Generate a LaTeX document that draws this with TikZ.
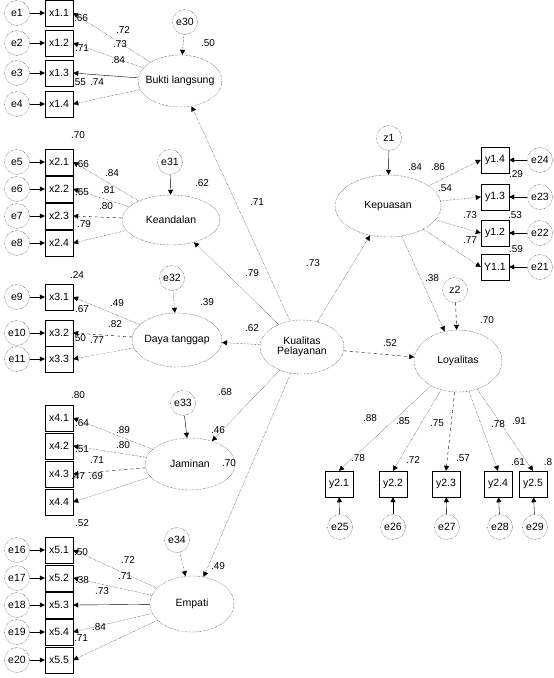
\documentclass[tikz,border=0pt]{standalone}
\usepackage{fontspec}
\setmainfont{Liberation Sans}
\usetikzlibrary{shapes.geometric,arrows.meta}
\newcommand\zw[1]{\makebox[0pt][c]{#1}}
\begin{document}
\begin{tikzpicture}[x=1pt,y=-1pt,
  font=\fontsize{10.5}{12}\selectfont,
  lat/.style={ellipse,draw,densely dotted,inner sep=0pt},
  err/.style={circle,draw,densely dotted,minimum size=25pt,inner sep=0pt},
  obs/.style={rectangle,draw,minimum width=28pt,minimum height=26pt,inner sep=0pt},
  num/.style={inner sep=0pt,font=\fontsize{10}{11}\selectfont},
  tip/.style={-{Triangle[length=5pt,width=5pt]}},
  arr/.style={tip,densely dotted},
  darr/.style={tip,dashed},
  sarr/.style={tip},
]
\useasboundingbox (0,0) rectangle (554,678);

% ---------- latent variables ----------
\node[lat,minimum width=84pt,minimum height=52pt] (bl) at (180,81) {\zw{Bukti langsung}};
\node[lat,minimum width=98pt,minimum height=50pt] (ke) at (171,220) {\zw{Keandalan}};
\node[lat,minimum width=90pt,minimum height=54pt] (dt) at (177,340) {\zw{Daya tanggap}};
\node[lat,minimum width=90pt,minimum height=52pt] (ja) at (190,464) {\zw{Jaminan}};
\node[lat,minimum width=84pt,minimum height=56pt] (em) at (192,604) {\zw{Empati}};
\node[lat,minimum width=84pt,minimum height=54pt] (kp) at (302,347)
  {\zw{\begin{tabular}{@{}c@{}}Kualitas\\[-2pt]Pelayanan\end{tabular}}};
\node[lat,minimum width=106pt,minimum height=62pt] (kep) at (388,206) {\zw{Kepuasan}};
\node[lat,minimum width=88pt,minimum height=62pt] (loy) at (458,361) {\zw{Loyalitas}};

% ---------- disturbances ----------
\node[err] (e30) at (185,22) {e30};
\node[err] (e31) at (170,162) {e31};
\node[err] (e32) at (172,278) {e32};
\node[err] (e33) at (183,403) {e33};
\node[err] (e34) at (177,540) {e34};
\node[err] (z1) at (389,138) {z1};
\node[err] (z2) at (455,290) {z2};

% ---------- Bukti langsung block ----------
\node[err] (e1) at (17,13) {e1};
\node[err] (e2) at (17,43) {e2};
\node[err] (e3) at (17,73) {e3};
\node[err] (e4) at (17,104) {e4};
\node[obs] (x11) at (59,13) {x1.1};
\node[obs] (x12) at (59,43) {x1.2};
\node[obs] (x13) at (59,73) {x1.3};
\node[obs] (x14) at (59,104) {x1.4};

% ---------- Keandalan block ----------
\node[err] (e5) at (17,162) {e5};
\node[err] (e6) at (17,189) {e6};
\node[err] (e7) at (17,216) {e7};
\node[err] (e8) at (17,243) {e8};
\node[obs] (x21) at (59,162) {x2.1};
\node[obs] (x22) at (59,189) {x2.2};
\node[obs] (x23) at (59,216) {x2.3};
\node[obs] (x24) at (59,243) {x2.4};

% ---------- Daya tanggap block ----------
\node[err] (e9) at (17,297) {e9};
\node[err] (e10) at (17,333) {e10};
\node[err] (e11) at (17,359) {e11};
\node[obs] (x31) at (59,297) {x3.1};
\node[obs] (x32) at (59,333) {x3.2};
\node[obs] (x33) at (59,359) {x3.3};

% ---------- Jaminan block ----------
\node[obs] (x41) at (59,418) {x4.1};
\node[obs] (x42) at (59,446) {x4.2};
\node[obs] (x43) at (59,474) {x4.3};
\node[obs] (x44) at (59,502) {x4.4};

% ---------- Empati block ----------
\node[err] (e16) at (17,550) {e16};
\node[err] (e17) at (17,578) {e17};
\node[err] (e18) at (17,605) {e18};
\node[err] (e19) at (17,632) {e19};
\node[err] (e20) at (17,660) {e20};
\node[obs] (x51) at (59,550) {x5.1};
\node[obs] (x52) at (59,578) {x5.2};
\node[obs] (x53) at (59,605) {x5.3};
\node[obs] (x54) at (59,632) {x5.4};
\node[obs] (x55) at (59,660) {x5.5};

% ---------- Kepuasan indicators ----------
\node[obs] (y14) at (495,160) {y1.4};
\node[obs] (y13) at (495,197) {y1.3};
\node[obs] (y12) at (495,233) {y1.2};
\node[obs] (y11) at (495,267) {Y1.1};
\node[err] (e24) at (540,160) {e24};
\node[err] (e23) at (540,197) {e23};
\node[err] (e22) at (540,233) {e22};
\node[err] (e21) at (540,267) {e21};

% ---------- Loyalitas indicators ----------
\node[obs] (y21) at (339,484) {y2.1};
\node[obs] (y22) at (393,484) {y2.2};
\node[obs] (y23) at (446,484) {y2.3};
\node[obs] (y24) at (498,484) {y2.4};
\node[obs] (y25) at (533,484) {y2.5};
\node[err] (e25) at (340,527) {e25};
\node[err] (e26) at (393,527) {e26};
\node[err] (e27) at (447,527) {e27};
\node[err] (e28) at (500,527) {e28};
\node[err] (e29) at (535,527) {e29};

% ---------- structural paths ----------
\draw[arr] (kp) -- (bl);
\draw[arr] (kp) -- (ke);
\draw[arr] (kp) -- (dt);
\draw[arr] (kp) -- (ja);
\draw[arr] (kp) -- (em);
\draw[arr] (kp) -- (kep);
\draw[darr] (kp) -- (loy);
\draw[arr] (kep) -- (loy);

% disturbance arrows
\draw[arr] (e30) -- (bl);
\draw[sarr] (e31) -- (ke);
\draw[arr] (e32) -- (dt);
\draw[sarr] (e33) -- (ja);
\draw[arr] (e34) -- (em);
\draw[sarr] (z1) -- (kep);
\draw[darr] (z2) -- (loy);

% ---------- loadings ----------
\draw[arr] (bl) -- (x11.east);
\draw[arr] (bl) -- (x12.east);
\draw[sarr] (bl) -- (x13.east);
\draw[arr] (bl) -- (x14.east);

\draw[arr] (ke) -- (x21.east);
\draw[arr] (ke) -- (x22.east);
\draw[darr] (ke) -- (x23.east);
\draw[arr] (ke) -- (x24.east);

\draw[arr] (dt) -- (x31.east);
\draw[darr] (dt) -- (x32.east);
\draw[arr] (dt) -- (x33.east);

\draw[arr] (ja) -- (x41.east);
\draw[arr] (ja) -- (x42.east);
\draw[darr] (ja) -- (x43.east);
\draw[arr] (ja) -- (x44.east);

\draw[arr] (em) -- (x51.east);
\draw[arr] (em) -- (x52.east);
\draw[sarr] (em) -- (x53.east);
\draw[arr] (em) -- (x54.east);
\draw[arr] (em) -- (x55.east);

\draw[arr] (kep) -- (y14.west);
\draw[arr] (kep) -- (y13.west);
\draw[arr] (kep) -- (y12.west);
\draw[arr] (kep) -- (y11.west);

\draw[arr] (loy) -- (y21.north);
\draw[arr] (loy) -- (y22.north);
\draw[darr] (loy) -- (y23.north);
\draw[arr] (loy) -- (y24.north);
\draw[arr] (loy) -- (y25.north);

% ---------- measurement errors ----------
\foreach \e/\x in {e1/x11,e2/x12,e3/x13,e4/x14,e5/x21,e6/x22,e7/x23,e8/x24,
                   e9/x31,e10/x32,e11/x33,e16/x51,e17/x52,e18/x53,e19/x54,e20/x55}
  \draw[sarr] (\e) -- (\x);
\foreach \e/\x in {e24/y14,e23/y13,e22/y12,e21/y11,e25/y21,e26/y22,e27/y23,e28/y24,e29/y25}
  \draw[sarr] (\e) -- (\x);

% ---------- estimates ----------
% Bukti langsung
\node[num] (n1) at (81,18) {.66};
\node[num] (n2) at (123,30) {.72};
\node[num] (n3) at (120,44) {.73};
\node[num] (n4) at (82,48) {.71};
\node[num] (n5) at (118,60) {.84};
\node[num] (n6) at (79,82) {.55};
\node[num] (n7) at (97,82) {.74};
\node[num] (n8) at (208,43) {.50};
% Keandalan
\node[num] (n9) at (78,135) {.70};
\node[num] (n10) at (82,164) {.66};
\node[num] (n11) at (112,173) {.84};
\node[num] (n12) at (82,192) {.65};
\node[num] (n13) at (108,190) {.81};
\node[num] (n14) at (106,206) {.80};
\node[num] (n15) at (84,224) {.79};
\node[num] (n16) at (202,183) {.62};
\node[num] (n17) at (257,202) {.71};
% Daya tanggap
\node[num] (n18) at (77,275) {.24};
\node[num] (n19) at (82,309) {.67};
\node[num] (n20) at (117,303) {.49};
\node[num] (n21) at (115,324) {.82};
\node[num] (n22) at (79,338) {.50};
\node[num] (n23) at (97,340) {.77};
\node[num] (n24) at (207,302) {.39};
\node[num] (n25) at (252,273) {.79};
\node[num] (n26) at (252,328) {.62};
% Jaminan
\node[num] (n27) at (78,395) {.80};
\node[num] (n28) at (82,423) {.64};
\node[num] (n29) at (123,430) {.89};
\node[num] (n30) at (123,445) {.80};
\node[num] (n31) at (82,449) {.51};
\node[num] (n32) at (97,460) {.71};
\node[num] (n33) at (78,476) {.47};
\node[num] (n34) at (96,476) {.69};
\node[num] (n35) at (218,430) {.46};
\node[num] (n36) at (229,463) {.70};
\node[num] (n37) at (225,392) {.68};
% Empati
\node[num] (n38) at (82,523) {.52};
\node[num] (n39) at (81,552) {.50};
\node[num] (n40) at (128,560) {.72};
\node[num] (n41) at (125,576) {.71};
\node[num] (n42) at (82,580) {.38};
\node[num] (n43) at (102,591) {.73};
\node[num] (n44) at (99,627) {.84};
\node[num] (n45) at (81,638) {.71};
\node[num] (n46) at (218,566) {.49};
% structural
\node[num] (n47) at (313,263) {.73};
\node[num] (n48) at (390,343) {.52};
\node[num] (n49) at (432,278) {.38};
\node[num] (n50) at (487,320) {.70};
% Kepuasan
\node[num] (n51) at (445,188) {.54};
\node[num] (n52) at (470,215) {.73};
\node[num] (n53) at (470,240) {.77};
\node[num] (n54) at (516,174) {.29};
\node[num] (n55) at (515,215) {.53};
\node[num] (n56) at (516,249) {.59};
\node[num] (n57) at (415,167) {.84};
\node[num] (n58) at (438,167) {.86};
% Loyalitas
\node[num] (n59) at (370,418) {.88};
\node[num] (n60) at (403,421) {.85};
\node[num] (n61) at (437,423) {.75};
\node[num] (n62) at (498,424) {.78};
\node[num] (n63) at (519,421) {.91};
\node[num] (n64) at (358,458) {.78};
\node[num] (n65) at (413,460) {.72};
\node[num] (n66) at (463,458) {.57};
\node[num] (n67) at (518,462) {.61};
\node[num] (n68) at (548,462) {.8};
\end{tikzpicture}
\end{document}
